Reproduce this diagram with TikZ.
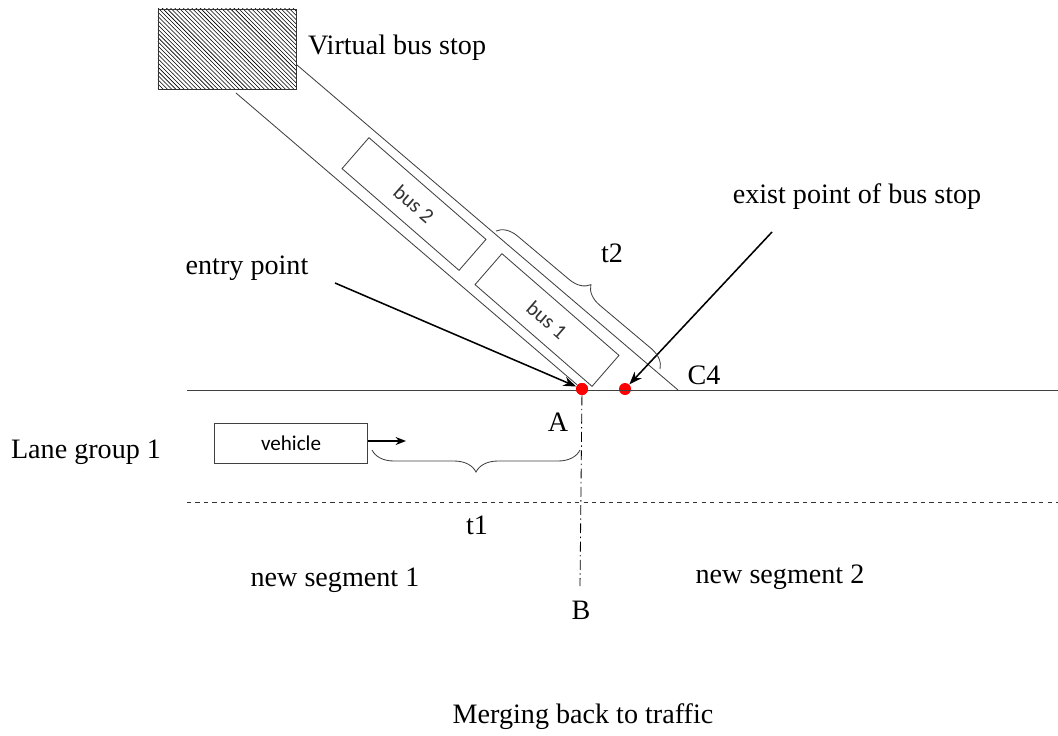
\documentclass[tikz,border=0pt]{standalone}
\usepackage{fontspec}
\setmainfont{Liberation Serif}
\newfontfamily\busfont{Carlito}
\usetikzlibrary{arrows.meta,patterns,decorations.pathreplacing}

\begin{document}
\begin{tikzpicture}[
                            x=0.025cm,
                            y=-0.025cm,
                            >={Stealth[length=3.2mm,width=2.4mm]},
                            line width=0.6pt,
                            font=\fontsize{20}{24}\selectfont
                        ]
                        \tikzstyle{lane}=[draw=black!75]
                        \tikzstyle{bus}=[draw=black!75,rotate=-41,minimum width=3.875cm,minimum height=1.025cm,font=\busfont\fontsize{15}{18}\selectfont,text=black!80]
                        \tikzstyle{dot}=[circle,fill=red,inner sep=0pt,minimum size=0.3cm]
                        \tikzstyle{pointer}=[->,line width=1.1pt]
                        \tikzstyle{gap}=[draw=black!75,decorate,decoration={brace,amplitude=0.55cm}]

                        \useasboundingbox (0,0) rectangle (1058,736);

                        % bus stop and its lane
                        \node[draw=black!80,pattern=north west lines,minimum width=3.45cm,minimum height=2cm] (stop) at (227,49) {};
                        \node[anchor=west] (stoplbl) at (303,48) {Virtual bus stop};
                        \coordinate (L1s) at (236,93);
                        \coordinate (L2s) at (297,65);
                        \coordinate (C4pt) at (678,390);

                        \node[bus] (bus2) at (414,204) {bus 2};
                        \node[bus] (bus1) at (547,320) {bus 1};

                        % main road
                        \coordinate (R0) at (187,390);
                        \coordinate (R1) at (1058,390);
                        \coordinate (D0) at (187,502);
                        \coordinate (D1) at (1058,502);
                        \node[dot] (entry) at (582,389) {};
                        \node[dot] (exit) at (625,389) {};
                        \coordinate (Bend) at (580,586);

                        \path[lane]
                        (L1s) edge (entry)
                        (L2s) edge (C4pt)
                        (R0) edge (R1)
                        (D0) edge [dashed,draw=black!80] (D1)
                        (entry) edge [dash pattern=on 7pt off 2.5pt on 1pt off 2.5pt,draw=black] (Bend)
                        ;
                        \fill[red] (entry) circle (0.15cm);

                        \node (C4) at (704,375) {C4};
                        \node (A) at (558,422) {A};
                        \node (B) at (581,610) {B};

                        % pointers
                        \node (entrylbl) at (247,268) {entry point};
                        \node (exitlbl) at (857,197) {exist point of bus stop};
                        \coordinate (entrytail) at (335,283);
                        \coordinate (exittail) at (772,232);
                        \path[pointer]
                        (entrytail) edge (entry)
                        (exittail) edge (exit)
                        ;

                        % vehicle
                        \node[draw=black!75,minimum width=3.825cm,minimum height=1cm,font=\busfont\fontsize{15}{18}\selectfont] (car) at (291,443) {vehicle};
                        \coordinate (carhead) at (406,441);
                        \draw[pointer,line width=0.9pt,>={Stealth[length=2.6mm,width=2mm]}] (car.east |- carhead) -- (carhead);

                        % distances
                        \coordinate (t1a) at (580,450);
                        \coordinate (t1b) at (372,450);
                        \draw[gap] (t1a) -- (t1b);
                        \node (t1) at (477,525) {t1};
                        \coordinate (t2a) at (496,231);
                        \coordinate (t2b) at (660,369);
                        \draw[gap,decoration={amplitude=0.5cm}] (t2a) -- (t2b);
                        \node (t2) at (612,253) {t2};

                        % labels
                        \node (lane1) at (86,452) {Lane group 1};
                        \node (seg1) at (335,580) {new segment 1};
                        \node (seg2) at (780,577) {new segment 2};
                        \node (title) at (583,717) {Merging back to traffic};
                    \end{tikzpicture}
\end{document}
